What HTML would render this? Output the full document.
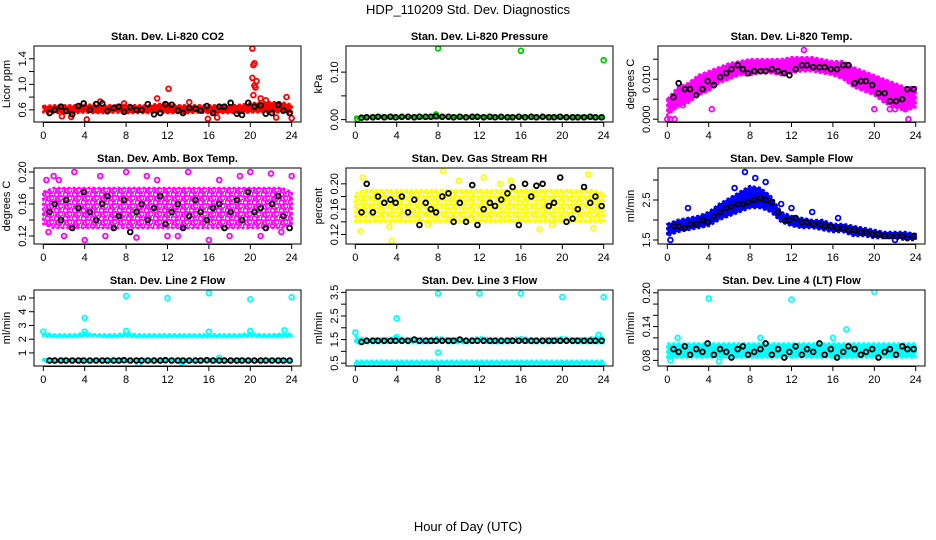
<!DOCTYPE html>
<html><head><meta charset="utf-8"><style>
html,body{margin:0;padding:0;background:#fff;}
svg{display:block;font-family:"Liberation Sans",sans-serif;}
</style></head><body>
<svg id="chart" width="936" height="540" viewBox="0 0 936 540" xmlns="http://www.w3.org/2000/svg">
<rect x="0" y="0" width="936" height="540" fill="#fff"/>
<text x="468" y="14" font-size="13" text-anchor="middle">HDP_110209  Std. Dev. Diagnostics</text>
<text x="468" y="531" font-size="13" text-anchor="middle">Hour of Day (UTC)</text>
</svg>
<script>
const blackX=[0.6,1.1,1.7,2.2,2.8,3.4,3.9,4.5,5.1,5.7,6.2,6.8,7.3,7.8,8.4,9.0,9.5,10.1,10.7,11.3,11.8,12.4,13.0,13.5,14.1,14.7,15.2,15.8,16.4,17.0,17.5,18.1,18.7,19.2,19.8,20.4,21.0,21.5,22.1,22.7,23.2,23.8];
const hourTicks=[0,4,8,12,16,20,24];
const bandHours=[0,1,2,3,4,5,6,7,8,9,10,11,12,13,14,15,16,17,18,19,20,21,22,23,24];

// Panel 1: Li-820 CO2
const co2Lo=[0.56,0.55,0.55,0.55,0.56,0.55,0.55,0.56,0.55,0.55,0.55,0.56,0.55,0.55,0.55,0.56,0.55,0.55,0.55,0.55,0.56,0.56,0.56,0.56,0.55];
const co2Hi=[0.66,0.67,0.67,0.67,0.68,0.68,0.67,0.67,0.68,0.67,0.67,0.69,0.70,0.67,0.67,0.67,0.67,0.67,0.67,0.68,0.70,0.72,0.72,0.72,0.68];
const co2ExX=[4.2,12.1,11,20.2,20.4,20.3,20.2,20.6,20.5,20.4,20.3,21,21.5,23.5,24,15.9,2.7,1.8,16.8,22.5,7.8,14.1,5.5];
const co2ExY=[0.45,0.93,0.78,1.56,1.33,1.30,1.10,1.05,0.95,0.98,0.83,0.78,0.75,0.80,0.47,0.46,0.49,0.50,0.48,0.48,0.70,0.72,0.73];
const co2Black=[0.55,0.6,0.65,0.58,0.53,0.66,0.7,0.6,0.69,0.7,0.58,0.63,0.65,0.57,0.64,0.6,0.6,0.69,0.53,0.55,0.69,0.68,0.59,0.55,0.63,0.62,0.59,0.66,0.55,0.65,0.65,0.71,0.54,0.52,0.71,0.65,0.67,0.54,0.55,0.68,0.59,0.55];

// Panel 2: Li-820 Pressure
const presLo=[0.002,0.003,0.003,0.003,0.003,0.003,0.003,0.003,0.003,0.003,0.003,0.003,0.003,0.003,0.003,0.003,0.003,0.003,0.003,0.003,0.003,0.003,0.003,0.003,0.002];
const presHi=[0.006,0.007,0.008,0.008,0.008,0.008,0.008,0.008,0.009,0.008,0.008,0.008,0.008,0.008,0.008,0.008,0.008,0.008,0.008,0.008,0.008,0.008,0.008,0.008,0.007];
const presExX=[8,16,24,7.8,0.2];
const presExY=[0.15,0.145,0.125,0.011,0.001];
const presBlack=[0.004,0.005,0.005,0.006,0.005,0.006,0.005,0.006,0.006,0.005,0.006,0.006,0.006,0.007,0.006,0.006,0.005,0.006,0.005,0.006,0.006,0.005,0.006,0.005,0.006,0.005,0.005,0.006,0.005,0.006,0.005,0.006,0.005,0.005,0.006,0.005,0.005,0.005,0.005,0.006,0.005,0.005];

// Panel 3: Li-820 Temp
const tempLo=[0.001,0.003,0.004,0.006,0.007,0.009,0.010,0.011,0.011,0.0115,0.0115,0.011,0.0115,0.012,0.012,0.0115,0.011,0.010,0.008,0.007,0.006,0.004,0.003,0.002,0.003];
const tempHi=[0.005,0.008,0.009,0.011,0.012,0.013,0.014,0.0145,0.015,0.015,0.015,0.015,0.0155,0.0155,0.0155,0.015,0.0145,0.0145,0.013,0.012,0.011,0.010,0.009,0.008,0.008];
const tempExX=[0,0.3,0.7,23.3,4.3,13.2,20,21.5,22,23,1.5,6.5];
const tempExY=[0,0,0,0,0.0025,0.0173,0.0025,0.0025,0.0025,0.0025,0.0035,0.013];
const tempBlack=[0.0055,0.009,0.0075,0.0075,0.006,0.0075,0.0095,0.0085,0.0105,0.0115,0.0125,0.0135,0.0125,0.0115,0.012,0.012,0.012,0.0125,0.012,0.0115,0.011,0.0125,0.0135,0.0135,0.013,0.013,0.013,0.0125,0.0125,0.0135,0.0135,0.009,0.0095,0.0095,0.0085,0.0065,0.0065,0.0045,0.0045,0.005,0.0075,0.0075];

// Panel 4: Amb. Box Temp
const ambLo=[0.135,0.13,0.13,0.13,0.13,0.13,0.13,0.13,0.13,0.13,0.13,0.13,0.13,0.13,0.13,0.13,0.13,0.13,0.13,0.13,0.13,0.13,0.13,0.13,0.135];
const ambHi=[0.175,0.18,0.18,0.18,0.18,0.18,0.18,0.18,0.18,0.18,0.18,0.18,0.18,0.18,0.18,0.18,0.18,0.18,0.18,0.18,0.18,0.18,0.18,0.18,0.175];
const ambExX=[0.3,1,1.5,3,5.5,8,10,14,16,19,20,22,24,2,4,6,9,12,18,21,23,0.5,11,17,13];
const ambExY=[0.19,0.195,0.19,0.2,0.195,0.2,0.195,0.2,0.115,0.195,0.2,0.198,0.195,0.12,0.115,0.12,0.118,0.12,0.12,0.12,0.125,0.125,0.19,0.19,0.12];
const ambBlack=[0.15,0.16,0.14,0.165,0.13,0.155,0.175,0.15,0.14,0.16,0.17,0.13,0.145,0.165,0.125,0.15,0.16,0.14,0.155,0.17,0.135,0.15,0.16,0.13,0.145,0.165,0.15,0.14,0.155,0.16,0.13,0.15,0.165,0.14,0.175,0.15,0.155,0.13,0.16,0.17,0.145,0.13];

// Panel 5: Gas Stream RH
const rhLo=[0.14,0.14,0.14,0.14,0.14,0.14,0.14,0.14,0.14,0.14,0.14,0.14,0.14,0.14,0.14,0.14,0.14,0.14,0.14,0.14,0.14,0.14,0.14,0.14,0.14];
const rhHi=[0.185,0.19,0.19,0.19,0.19,0.19,0.19,0.19,0.19,0.19,0.19,0.19,0.19,0.19,0.19,0.19,0.19,0.19,0.19,0.19,0.19,0.19,0.19,0.19,0.185];
const rhExX=[0.7,8.5,12.4,17.8,23,3.5,0.5,3.3,22.5,10,15,7,14,19];
const rhExY=[0.21,0.22,0.21,0.128,0.13,0.11,0.125,0.132,0.215,0.205,0.205,0.135,0.2,0.135];
const rhBlack=[0.155,0.2,0.155,0.18,0.17,0.175,0.17,0.18,0.155,0.175,0.135,0.17,0.16,0.155,0.18,0.185,0.14,0.17,0.14,0.198,0.135,0.16,0.17,0.165,0.175,0.185,0.195,0.135,0.2,0.18,0.197,0.2,0.165,0.17,0.21,0.14,0.145,0.16,0.195,0.17,0.18,0.165];

// Panel 6: Sample Flow
const sfLo=[1.6,1.7,1.75,1.8,1.85,2.0,2.1,2.2,2.3,2.3,2.2,1.95,1.85,1.8,1.8,1.75,1.7,1.7,1.6,1.6,1.55,1.55,1.55,1.5,1.5];
const sfHi=[1.9,2.0,2.05,2.1,2.2,2.4,2.55,2.7,2.85,2.8,2.6,2.2,2.1,2.05,2.0,2.0,1.9,1.9,1.85,1.8,1.75,1.7,1.7,1.7,1.65];
const sfExX=[7.5,8.5,6.5,0.3,2,9.5,11,12,14,16.5,22];
const sfExY=[3.2,3.05,2.8,1.5,2.3,2.95,2.4,2.3,2.2,2.05,1.5];
const sfBlack=[1.85,1.85,1.8,1.9,1.9,2.0,1.95,2.1,2.2,2.3,2.35,2.4,2.4,2.45,2.5,2.55,2.5,2.45,2.2,2.0,2.0,2.05,1.95,1.95,1.9,1.9,1.85,1.85,1.8,1.8,1.75,1.75,1.7,1.7,1.65,1.65,1.6,1.6,1.6,1.6,1.55,1.6];

// Panel 7: Line 2 Flow
const l2UpLo=[2.2,2.15,2.15,2.15,2.2,2.2,2.15,2.15,2.2,2.15,2.15,2.15,2.15,2.15,2.15,2.15,2.15,2.15,2.15,2.15,2.2,2.15,2.15,2.15,2.2];
const l2UpHi=[2.45,2.35,2.35,2.35,2.45,2.35,2.35,2.35,2.45,2.35,2.35,2.35,2.35,2.35,2.35,2.35,2.35,2.35,2.35,2.35,2.45,2.35,2.35,2.4,2.4];
const l2LoLo=[0.35,0.35,0.35,0.35,0.35,0.35,0.35,0.35,0.35,0.35,0.35,0.35,0.35,0.35,0.35,0.35,0.35,0.35,0.35,0.35,0.35,0.35,0.35,0.35,0.35];
const l2LoHi=[0.55,0.55,0.55,0.55,0.55,0.55,0.55,0.55,0.55,0.55,0.55,0.55,0.55,0.55,0.55,0.55,0.55,0.55,0.55,0.55,0.55,0.55,0.55,0.55,0.55];
const l2ExX=[4,8,12,16,20,24,0,4,8,16,20,23.3,9.2,13.4,17];
const l2ExY=[3.55,5.15,5.0,5.35,4.9,5.05,2.55,2.55,2.6,2.55,2.6,2.65,0.2,0.3,0.65];
const l2Black=[0.45,0.45,0.45,0.45,0.45,0.45,0.45,0.45,0.45,0.45,0.45,0.45,0.45,0.47,0.45,0.45,0.45,0.45,0.45,0.45,0.47,0.45,0.45,0.45,0.45,0.45,0.45,0.47,0.45,0.45,0.45,0.45,0.45,0.45,0.45,0.45,0.45,0.45,0.45,0.45,0.45,0.45];

// Panel 8: Line 3 Flow
const l3UpLo=[1.35,1.35,1.35,1.35,1.4,1.35,1.35,1.35,1.4,1.35,1.35,1.35,1.4,1.35,1.35,1.35,1.4,1.35,1.35,1.35,1.4,1.35,1.35,1.35,1.35];
const l3UpHi=[1.6,1.55,1.55,1.55,1.6,1.55,1.55,1.55,1.6,1.55,1.55,1.55,1.6,1.55,1.55,1.55,1.6,1.55,1.55,1.55,1.6,1.55,1.55,1.6,1.6];
const l3LoLo=[0.45,0.45,0.45,0.45,0.45,0.45,0.45,0.45,0.45,0.45,0.45,0.45,0.45,0.45,0.45,0.45,0.45,0.45,0.45,0.45,0.45,0.45,0.45,0.45,0.45];
const l3LoHi=[0.6,0.6,0.6,0.6,0.6,0.6,0.6,0.6,0.6,0.6,0.6,0.6,0.6,0.6,0.6,0.6,0.6,0.6,0.6,0.6,0.6,0.6,0.6,0.6,0.6];
const l3ExX=[0,4,8,12,16,20,24,8,4,23.5];
const l3ExY=[1.8,2.4,3.45,3.45,3.45,3.3,3.3,0.95,1.6,1.7];
const l3Black=[1.4,1.45,1.45,1.45,1.45,1.45,1.45,1.45,1.45,1.5,1.45,1.45,1.45,1.45,1.45,1.45,1.45,1.5,1.45,1.45,1.45,1.45,1.45,1.45,1.45,1.45,1.45,1.45,1.45,1.45,1.45,1.45,1.45,1.45,1.45,1.45,1.45,1.45,1.45,1.45,1.45,1.45];

// Panel 9: Line 4 (LT) Flow
const l4Lo=[0.085,0.085,0.085,0.085,0.085,0.085,0.085,0.085,0.085,0.085,0.085,0.085,0.085,0.085,0.085,0.085,0.085,0.085,0.085,0.085,0.085,0.085,0.085,0.085,0.085];
const l4Hi=[0.11,0.11,0.11,0.11,0.11,0.11,0.11,0.11,0.11,0.11,0.11,0.11,0.11,0.11,0.11,0.11,0.11,0.11,0.11,0.11,0.11,0.11,0.11,0.11,0.11];
const l4ExX=[4,12,20,17.3,1,9,16,0.3,5];
const l4ExY=[0.19,0.188,0.202,0.135,0.12,0.12,0.12,0.08,0.078];
const l4Black=[0.1,0.095,0.105,0.09,0.1,0.095,0.11,0.09,0.1,0.095,0.085,0.1,0.105,0.09,0.095,0.1,0.11,0.09,0.1,0.085,0.095,0.105,0.09,0.1,0.095,0.11,0.09,0.1,0.085,0.095,0.105,0.1,0.09,0.095,0.1,0.085,0.095,0.1,0.09,0.105,0.1,0.1];

const panels=[
 {name:'co2',title:'Stan. Dev. Li-820 CO2',ylab:'Licor ppm',col:'#ff0000',dense:true,ymin:0.41,ymax:1.60,ticks:[0.6,0.8,1.0,1.2,1.4],labs:['0.6','','1.0','','1.4'],bands:[[co2Lo,co2Hi]],exX:co2ExX,exY:co2ExY,blk:co2Black},
 {name:'pressure',title:'Stan. Dev. Li-820 Pressure',ylab:'kPa',col:'#00cc00',dense:true,ymin:-0.005,ymax:0.155,ticks:[0,0.05,0.1],labs:['0.00','','0.10'],bands:[[presLo,presHi]],exX:presExX,exY:presExY,blk:presBlack},
 {name:'temp',title:'Stan. Dev. Li-820 Temp.',ylab:'degrees C',col:'#ff00ff',dense:true,ymin:-0.0007,ymax:0.0183,ticks:[0,0.005,0.01,0.015],labs:['0.000','','0.010',''],bands:[[tempLo,tempHi]],exX:tempExX,exY:tempExY,blk:tempBlack},
 {name:'amb-box-temp',title:'Stan. Dev. Amb. Box Temp.',ylab:'degrees C',col:'#ff00ff',dense:false,ymin:0.11,ymax:0.205,ticks:[0.12,0.14,0.16,0.18,0.2],labs:['0.12','','0.16','','0.20'],bands:[[ambLo,ambHi]],exX:ambExX,exY:ambExY,blk:ambBlack},
 {name:'gas-rh',title:'Stan. Dev. Gas Stream RH',ylab:'percent',col:'#ffff00',dense:false,ymin:0.105,ymax:0.225,ticks:[0.12,0.14,0.16,0.18,0.2],labs:['0.12','','0.16','','0.20'],bands:[[rhLo,rhHi]],exX:rhExX,exY:rhExY,blk:rhBlack},
 {name:'sample-flow',title:'Stan. Dev. Sample Flow',ylab:'ml/min',col:'#0000ff',dense:true,ymin:1.4,ymax:3.3,ticks:[1.5,2.0,2.5,3.0],labs:['1.5','','2.5',''],bands:[[sfLo,sfHi]],exX:sfExX,exY:sfExY,blk:sfBlack},
 {name:'line2-flow',title:'Stan. Dev. Line 2 Flow',ylab:'ml/min',col:'#00ffff',dense:true,ymin:0.05,ymax:5.58,ticks:[1,2,3,4,5],labs:['1','2','3','4','5'],bands:[[l2UpLo,l2UpHi],[l2LoLo,l2LoHi]],exX:l2ExX,exY:l2ExY,blk:l2Black},
 {name:'line3-flow',title:'Stan. Dev. Line 3 Flow',ylab:'ml/min',col:'#00ffff',dense:true,ymin:0.38,ymax:3.6,ticks:[0.5,1,1.5,2,2.5,3,3.5],labs:['0.5','','1.5','','2.5','','3.5'],bands:[[l3UpLo,l3UpHi],[l3LoLo,l3LoHi]],exX:l3ExX,exY:l3ExY,blk:l3Black},
 {name:'line4-flow',title:'Stan. Dev. Line 4 (LT) Flow',ylab:'ml/min',col:'#00ffff',dense:true,ymin:0.07,ymax:0.205,ticks:[0.08,0.1,0.12,0.14,0.16,0.18,0.2],labs:['0.08','','','0.14','','','0.20'],bands:[[l4Lo,l4Hi]],exX:l4ExX,exY:l4ExY,blk:l4Black}
];

const NS='http://www.w3.org/2000/svg';
const svg=document.getElementById('chart');
function mk(tag,attrs,parent){const e=document.createElementNS(NS,tag);for(const k in attrs)e.setAttribute(k,attrs[k]);parent.appendChild(e);return e;}
const defs=mk('defs',{},svg);

panels.forEach((p,i)=>{
 const c=i%3,r=Math.floor(i/3);
 const L=34+312*c,T=46+122*r,W=267,H=76;
 const xs=h=>L+9.3+(h/24)*(W-18.6);
 const ys=v=>T+H-(v-p.ymin)/(p.ymax-p.ymin)*H;
 const pat=mk('pattern',{id:'pat'+i,patternUnits:'userSpaceOnUse',width:9,height:8},defs);
 mk('rect',{x:0,y:0,width:9,height:8,fill:p.dense?p.col:'none'},pat);
 mk('circle',{cx:2.5,cy:2.5,r:2.2,fill:'none',stroke:p.col,'stroke-width':1.8},pat);
 mk('circle',{cx:7,cy:6,r:2.2,fill:'none',stroke:p.col,'stroke-width':1.8},pat);
 mk('circle',{cx:6.5,cy:1,r:1.5,fill:p.col},pat);
 mk('circle',{cx:2,cy:7,r:1.5,fill:p.col},pat);
 const g=mk('g',{},svg);
 
 
 const t=mk('text',{x:L+W/2,y:T-6,'font-size':11,'font-weight':'bold','text-anchor':'middle'},g);
 t.textContent=p.title;
 
 
 const yl=mk('text',{transform:`translate(${L-24},${T+H/2}) rotate(-90)`,'font-size':11,'text-anchor':'middle'},g);
 yl.textContent=p.ylab;
 
 
 const clip=mk('clipPath',{id:'clip'+i},g);
 mk('rect',{x:L,y:T,width:W,height:H},clip);
 const pg=mk('g',{'clip-path':`url(#clip${i})`},g);
 p.bands.forEach(b=>{
  let pts=bandHours.map((h,k)=>xs(h)+','+ys(b[1][k]));
  pts=pts.concat(bandHours.map((h,k)=>xs(h)+','+ys(b[0][k])).reverse());
  const poly=mk('polygon',{points:pts.join(' '),fill:`url(#pat${i})`,stroke:p.col,'stroke-width':2.5,'stroke-dasharray':'3 2','stroke-linejoin':'round'},pg);
  
  
 });
 p.exX.forEach((x,k)=>{
  const cc=mk('circle',{cx:xs(x),cy:ys(p.exY[k]),r:2.4,fill:'none',stroke:p.col,'stroke-width':1.8},pg);
  
  
 });
 blackX.forEach((x,k)=>{
  const cc=mk('circle',{cx:xs(x),cy:ys(p.blk[k]),r:2.4,fill:'none',stroke:'#000','stroke-width':1.8},pg);
  
  
 });
 const box=mk('rect',{x:L,y:T,width:W,height:H,fill:'none',stroke:'#000','stroke-width':1},g);
 
 
 mk('line',{x1:xs(0),x2:xs(24),y1:T+H+0.5,y2:T+H+0.5,stroke:'#000'},g);
 hourTicks.forEach(h=>{
  mk('line',{x1:xs(h),x2:xs(h),y1:T+H,y2:T+H+5,stroke:'#000'},g);
  const tl=mk('text',{x:xs(h),y:T+H+17,'font-size':11,'text-anchor':'middle'},g);
  tl.textContent=h;
  
  
 });
 p.ticks.forEach((v,k)=>{
  const y=ys(v);
  mk('line',{x1:L-5,x2:L,y1:y,y2:y,stroke:'#000'},g);
  if(p.labs[k]){
   const tl=mk('text',{transform:`translate(${L-8},${y}) rotate(-90)`,'font-size':11,'text-anchor':'middle'},g);
   tl.textContent=p.labs[k];
   
   
  }
 });
});
</script>
</body></html>
